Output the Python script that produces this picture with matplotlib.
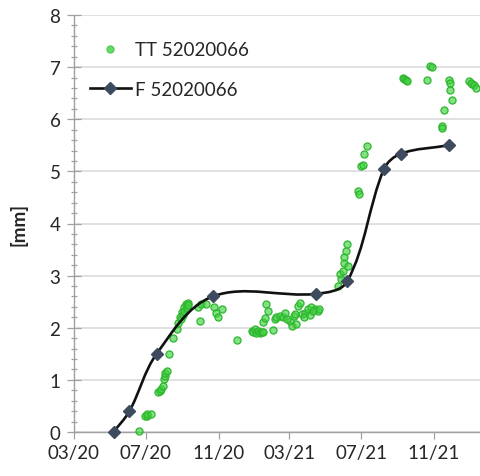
import matplotlib
matplotlib.use("Agg")
import matplotlib.pyplot as plt
import matplotlib.dates as mdates
from matplotlib.path import Path
from matplotlib.patches import PathPatch
from matplotlib.lines import Line2D
from matplotlib.ticker import MultipleLocator
import numpy as np
import pandas as pd

plt.rcParams['font.family'] = ['Lato', 'DejaVu Sans']

# --- data -------------------------------------------------------------
f_label = "F 52020066"
f_dates = ['2020-05-07', '2020-06-03', '2020-07-19', '2020-10-22', '2021-04-15',
           '2021-06-07', '2021-08-08', '2021-09-06', '2021-11-26']
f_values = [0.0, 0.4, 1.5, 2.6, 2.65, 2.89, 5.04, 5.34, 5.5]

tt_label = "TT 52020066"
tt_dates = ['2020-05-08', '2020-06-19', '2020-06-29', '2020-07-02', '2020-07-03', '2020-07-09',
            '2020-07-21', '2020-07-24', '2020-07-27', '2020-07-30', '2020-07-31', '2020-08-02',
            '2020-08-03', '2020-08-05', '2020-08-09', '2020-08-16', '2020-08-23', '2020-08-25',
            '2020-08-28', '2020-08-31', '2020-09-03', '2020-09-06', '2020-09-10', '2020-08-29',
            '2020-09-01', '2020-09-04', '2020-09-08', '2020-09-11', '2020-09-30', '2020-09-27',
            '2020-10-03', '2020-10-11', '2020-10-25', '2020-10-28', '2020-10-31', '2020-11-06',
            '2020-12-02', '2020-12-27', '2020-12-30', '2021-01-02', '2021-01-04', '2021-01-07',
            '2021-01-10', '2021-01-13', '2021-01-15', '2021-01-15', '2021-01-18', '2021-01-21',
            '2021-01-24', '2021-02-01', '2021-02-04', '2021-02-07', '2021-02-13', '2021-02-18',
            '2021-02-21', '2021-03-02', '2021-03-05', '2021-03-08', '2021-03-11', '2021-03-16',
            '2021-03-19', '2021-03-22', '2021-03-27', '2021-04-02', '2021-04-07', '2021-04-13',
            '2021-04-19', '2021-04-21', '2021-02-25', '2021-03-25', '2021-04-05', '2021-03-12',
            '2021-04-10', '2021-05-23', '2021-05-26', '2021-05-27', '2021-05-30', '2021-06-01',
            '2021-06-02', '2021-06-05', '2021-06-07', '2021-06-09', '2021-06-26', '2021-06-27',
            '2021-07-01', '2021-07-03', '2021-07-06', '2021-07-10', '2021-09-10', '2021-09-12',
            '2021-09-14', '2021-09-16', '2021-10-20', '2021-10-25', '2021-10-28', '2021-11-14',
            '2021-11-15', '2021-11-18', '2021-11-27', '2021-11-28', '2021-11-29', '2021-12-01',
            '2021-12-30', '2022-01-05', '2022-01-03', '2022-01-07', '2022-01-11']
tt_values = [0.0, 0.01, 0.31, 0.30, 0.34, 0.34,
             0.76, 0.79, 0.82, 0.89, 1.02, 1.08,
             1.14, 1.17, 1.49, 1.81, 1.97, 2.10,
             2.20, 2.30, 2.39, 2.45, 2.47, 2.16,
             2.24, 2.32, 2.38, 2.43, 2.13, 2.39,
             2.45, 2.45, 2.39, 2.29, 2.20, 2.36,
             1.77, 1.94, 1.91, 1.97, 1.90, 1.94,
             1.90, 1.92, 1.91, 2.11, 2.18, 2.45,
             2.32, 1.96, 2.16, 2.20, 2.23, 2.20,
             2.29, 2.13, 2.04, 2.23, 2.26, 2.42,
             2.48, 2.26, 2.29, 2.36, 2.39, 2.36,
             2.32, 2.36, 2.16, 2.20, 2.24, 2.07,
             2.32, 2.80, 3.03, 2.93, 3.09, 3.25,
             3.35, 3.47, 3.60, 3.19, 4.62, 4.56,
             5.11, 5.13, 5.34, 5.48, 6.80, 6.78,
             6.75, 6.73, 6.75, 7.03, 7.01, 5.88,
             5.84, 6.17, 6.75, 6.70, 6.57, 6.36,
             6.73, 6.68, 6.70, 6.65, 6.60]

y_label = "[mm]"
x_start, x_end = '2020-03-01', '2022-01-18'

# --- figure -----------------------------------------------------------
fig = plt.figure(figsize=(4.80, 4.77), dpi=100)
ax = fig.add_axes([74 / 480, 1 - 433 / 477, 1 - 74 / 480, (433 - 16) / 477])

ax.set_xlim(pd.Timestamp(x_start), pd.Timestamp(x_end))
ax.set_ylim(0, 8)

grid_c = '#d9d9d9'
axis_c = '#a0a0a0'
for s in ['top', 'right']:
    ax.spines[s].set_visible(False)
ax.spines['left'].set_color(axis_c)
ax.spines['bottom'].set_color(axis_c)
ax.spines['left'].set_linewidth(1.0)
ax.spines['bottom'].set_linewidth(1.0)

ax.yaxis.set_major_locator(MultipleLocator(1))
ax.yaxis.set_minor_locator(MultipleLocator(0.2))
ax.grid(axis='y', which='major', color=grid_c, linewidth=1.1, zorder=0)
ax.set_axisbelow(True)
ax.tick_params(axis='y', which='major', direction='inout', length=9.5, width=0.9,
               color=axis_c, labelsize=13.5, labelcolor='#262626', pad=5)
ax.tick_params(axis='y', which='minor', direction='inout', length=4.5, width=0.9,
               color=axis_c)

ax.xaxis.set_major_locator(mdates.MonthLocator(bymonth=[3, 7, 11]))
ax.xaxis.set_major_formatter(mdates.DateFormatter('%m/%y'))
ax.tick_params(axis='x', which='major', direction='out', length=5, width=0.9,
               color=axis_c, labelsize=13.5, labelcolor='#262626', pad=4)

ax.set_ylabel(y_label, fontsize=13.5, fontweight='bold', color='#262626', labelpad=16)

# scatter series
tt_x = pd.to_datetime(tt_dates)
ax.scatter(tt_x, tt_values, s=26, facecolor=(0.25, 0.82, 0.25, 0.65),
           edgecolor='#2fb52f', linewidths=0.9, zorder=4, clip_on=False)

# smoothed F line (Bezier through the points, computed in display space)
f_x = mdates.date2num(pd.to_datetime(f_dates))
fig.canvas.draw()
pts = ax.transData.transform(np.column_stack([f_x, f_values]))
n = len(pts)
verts = [pts[0]]
codes = [Path.MOVETO]
for i in range(n - 1):
    p0 = pts[max(i - 1, 0)]
    p1 = pts[i]
    p2 = pts[i + 1]
    p3 = pts[min(i + 2, n - 1)]
    seg = np.linalg.norm(p2 - p1)
    t1 = p2 - p0
    t2 = p3 - p1
    t1 = t1 / np.linalg.norm(t1)
    t2 = t2 / np.linalg.norm(t2)
    c1 = p1 + t1 * seg / 3
    c2 = p2 - t2 * seg / 3
    verts += [c1, c2, p2]
    codes += [Path.CURVE4] * 3
verts = ax.transData.inverted().transform(np.array(verts))
path = Path(verts, codes)
ax.add_patch(PathPatch(path, facecolor='none', edgecolor='#111111', linewidth=1.9,
                       zorder=5, capstyle='round', joinstyle='round'))
ax.plot(pd.to_datetime(f_dates), f_values, linestyle='none', marker='D', markersize=6.5,
        color='#3e4b5e', zorder=6, clip_on=False)

# legend
h_tt = Line2D([], [], linestyle='none', marker='o', markersize=5,
              markerfacecolor=(0.25, 0.82, 0.25, 0.8), markeredgecolor='#55cc55')
h_f = Line2D([], [], color='#111111', linewidth=1.9, marker='D', markersize=6.5,
             markerfacecolor='#3e4b5e', markeredgecolor='#3e4b5e')
leg = ax.legend([h_tt, h_f], [tt_label, f_label], loc='upper left', frameon=False,
                fontsize=13.5, handlelength=2.2, handletextpad=0.2,
                labelspacing=1.2, bbox_to_anchor=(0.02, 0.955), borderaxespad=0)
for t in leg.get_texts():
    t.set_color('#262626')

fig.savefig('out.png', dpi=100)
